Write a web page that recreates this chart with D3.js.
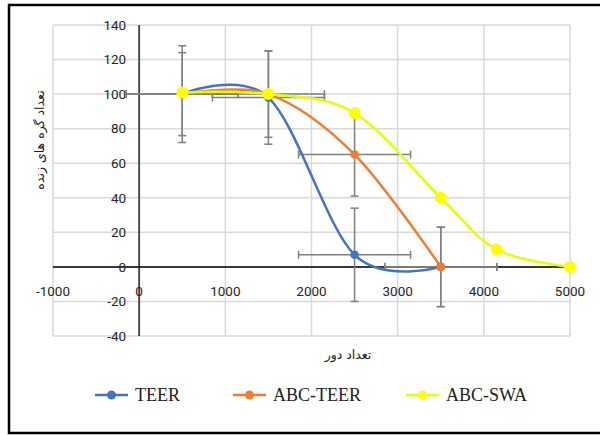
<!DOCTYPE html>
<html>
<head>
<meta charset="utf-8">
<script src="https://cdn.jsdelivr.net/npm/d3@7"></script>
<style>
  body { margin: 0; background: #fff; }
  svg { display: block; }
</style>
</head>
<body>
<div id="container"></div>
<script>
// chart values
var roundsX = [500, 1500, 2500, 3500];
var teerVals = [100, 98, 7, 0];
var abcTeerVals = [100, 100, 65, 0];
var teerErr = [28, 27, 27, 23];
var abcTeerErr = [24, 25, 24, 23];
var roundsErr = 650;

var swaX = [500, 1500, 2500, 3500, 4150, 5000];
var abcSwaVals = [101, 100, 89, 40, 10, 0];

var seriesNames = ["TEER", "ABC-TEER", "ABC-SWA"];
var xTicks = [-1000, 0, 1000, 2000, 3000, 4000, 5000];
var yTicks = [-40, -20, 0, 20, 40, 60, 80, 100, 120, 140];

var width = 600, height = 435;
var colors = {TEER: "#4472c4", "ABC-TEER": "#ed7d31", "ABC-SWA": "#ffff00"};

var svg = d3.select("#container")
  .append("svg")
    .attr("width", width)
    .attr("height", height);

svg.append("rect")
    .attr("width", width).attr("height", height)
    .style("fill", "#fff");

// outer frame (right edge is cut off in the picture)
svg.append("rect")
    .attr("x", 9).attr("y", 5)
    .attr("width", 620).attr("height", 428)
    .style("fill", "none")
    .style("stroke", "#000")
    .style("stroke-width", 2.5);

var x = d3.scaleLinear().domain([-1000, 5000]).range([53, 570]);
var y = d3.scaleLinear().domain([-40, 140]).range([336, 25]);

// gridlines
var grid = svg.append("g");
grid.selectAll(".vgrid")
    .data(xTicks)
  .enter().append("line")
    .attr("x1", function(d) { return x(d); })
    .attr("x2", function(d) { return x(d); })
    .attr("y1", y(140)).attr("y2", y(-40))
    .style("stroke", "#d9d9d9")
    .style("stroke-width", 1.5);
grid.selectAll(".hgrid")
    .data(yTicks)
  .enter().append("line")
    .attr("y1", function(d) { return y(d); })
    .attr("y2", function(d) { return y(d); })
    .attr("x1", x(-1000)).attr("x2", x(5000))
    .style("stroke", "#d9d9d9")
    .style("stroke-width", 1.5);

// axis lines cross at zero
svg.append("line")
    .attr("x1", x(0)).attr("x2", x(0))
    .attr("y1", y(140)).attr("y2", y(-40))
    .style("stroke", "#404040")
    .style("stroke-width", 1.8);
svg.append("line")
    .attr("x1", x(-1000)).attr("x2", x(5000))
    .attr("y1", y(0)).attr("y2", y(0))
    .style("stroke", "#000")
    .style("stroke-width", 1.5);

// tick labels
svg.selectAll(".xlab")
    .data(xTicks)
  .enter().append("text")
    .attr("x", function(d) { return x(d); })
    .attr("y", y(0) + 24)
    .attr("dy", ".35em")
    .style("text-anchor", "middle")
    .style("font-family", "Roboto, 'Liberation Sans', sans-serif")
    .style("font-size", "13.5px")
    .style("fill", "#262626")
    .text(function(d) { return d; });

svg.selectAll(".ylab")
    .data(yTicks)
  .enter().append("text")
    .attr("x", x(0) - 13)
    .attr("y", function(d) { return y(d); })
    .attr("dy", ".35em")
    .style("text-anchor", "end")
    .style("font-family", "Roboto, 'Liberation Sans', sans-serif")
    .style("font-size", "13.5px")
    .style("fill", "#262626")
    .text(function(d) { return d; });

// axis titles
svg.append("text")
    .attr("x", 348)
    .attr("y", 355)
    .attr("dy", ".35em")
    .style("text-anchor", "middle")
    .style("font-family", "'DejaVu Sans', sans-serif")
    .style("font-size", "12.5px")
    .style("fill", "#222")
    .text("تعداد دور");

svg.append("text")
    .attr("transform", "translate(40,140) rotate(-90)")
    .attr("dy", ".35em")
    .style("text-anchor", "middle")
    .style("font-family", "'DejaVu Sans', sans-serif")
    .style("font-size", "12.5px")
    .style("fill", "#222")
    .text("تعداد گره های زنده");

// build series rows
function rows(xs, ys, errs) {
  return xs.map(function(v, i) {
    return {x: v, y: ys[i], e: errs ? errs[i] : null};
  });
}
var teer = rows(roundsX, teerVals, teerErr);
var abcTeer = rows(roundsX, abcTeerVals, abcTeerErr);
var abcSwa = rows(swaX, abcSwaVals, null);

// error bars (behind the lines)
var errG = svg.append("g");
var cap = 4;
[teer, abcTeer].forEach(function(data) {
  data.forEach(function(d) {
    var cx = x(d.x), cy = y(d.y);
    var t = y(d.y + d.e), b = y(d.y - d.e);
    var l = x(d.x - roundsErr), r = x(d.x + roundsErr);
    var segs = [
      [cx, t, cx, b], [cx - cap, t, cx + cap, t], [cx - cap, b, cx + cap, b],
      [l, cy, r, cy], [l, cy - cap, l, cy + cap], [r, cy - cap, r, cy + cap]
    ];
    errG.selectAll(null)
        .data(segs)
      .enter().append("line")
        .attr("x1", function(s) { return s[0]; })
        .attr("y1", function(s) { return s[1]; })
        .attr("x2", function(s) { return s[2]; })
        .attr("y2", function(s) { return s[3]; })
        .style("stroke", "#7f7f7f")
        .style("stroke-width", 1.5);
  });
});

var line = d3.line()
    .x(function(d) { return x(d.x); })
    .y(function(d) { return y(d.y); })
    .curve(d3.curveCardinal.tension(0));

var series = [
  {name: "TEER", data: teer, stroke: "#4472c4", r: 4.3},
  {name: "ABC-TEER", data: abcTeer, stroke: "#ed7d31", r: 4.3},
  {name: "ABC-SWA", data: abcSwa, stroke: "#e4ff00", r: 6}
];

series.forEach(function(s) {
  svg.append("path")
      .datum(s.data)
      .attr("d", line)
      .style("fill", "none")
      .style("stroke", s.stroke)
      .style("stroke-width", 2.5);
});
series.forEach(function(s) {
  svg.append("g").selectAll("circle")
      .data(s.data)
    .enter().append("circle")
      .attr("cx", function(d) { return x(d.x); })
      .attr("cy", function(d) { return y(d.y); })
      .attr("r", s.r)
      .style("fill", colors[s.name]);
});

// legend
var legendX = [95, 233, 406];
var legend = svg.selectAll(".legend")
    .data(seriesNames)
  .enter().append("g")
    .attr("class", "legend")
    .attr("transform", function(d, i) { return "translate(" + legendX[i] + ",395)"; });

legend.append("line")
    .attr("x1", 0).attr("x2", 33)
    .style("stroke", function(d) { return d == "ABC-SWA" ? "#e4ff00" : colors[d]; })
    .style("stroke-width", 2.5);
legend.append("circle")
    .attr("cx", 16.5)
    .attr("r", 4.5)
    .style("fill", function(d) { return colors[d]; });
legend.append("text")
    .attr("x", 40)
    .attr("dy", ".35em")
    .style("font-family", "'Liberation Serif', 'Times New Roman', serif")
    .style("font-size", "18px")
    .style("fill", "#222")
    .text(function(d) { return d; });
</script>
</body>
</html>
